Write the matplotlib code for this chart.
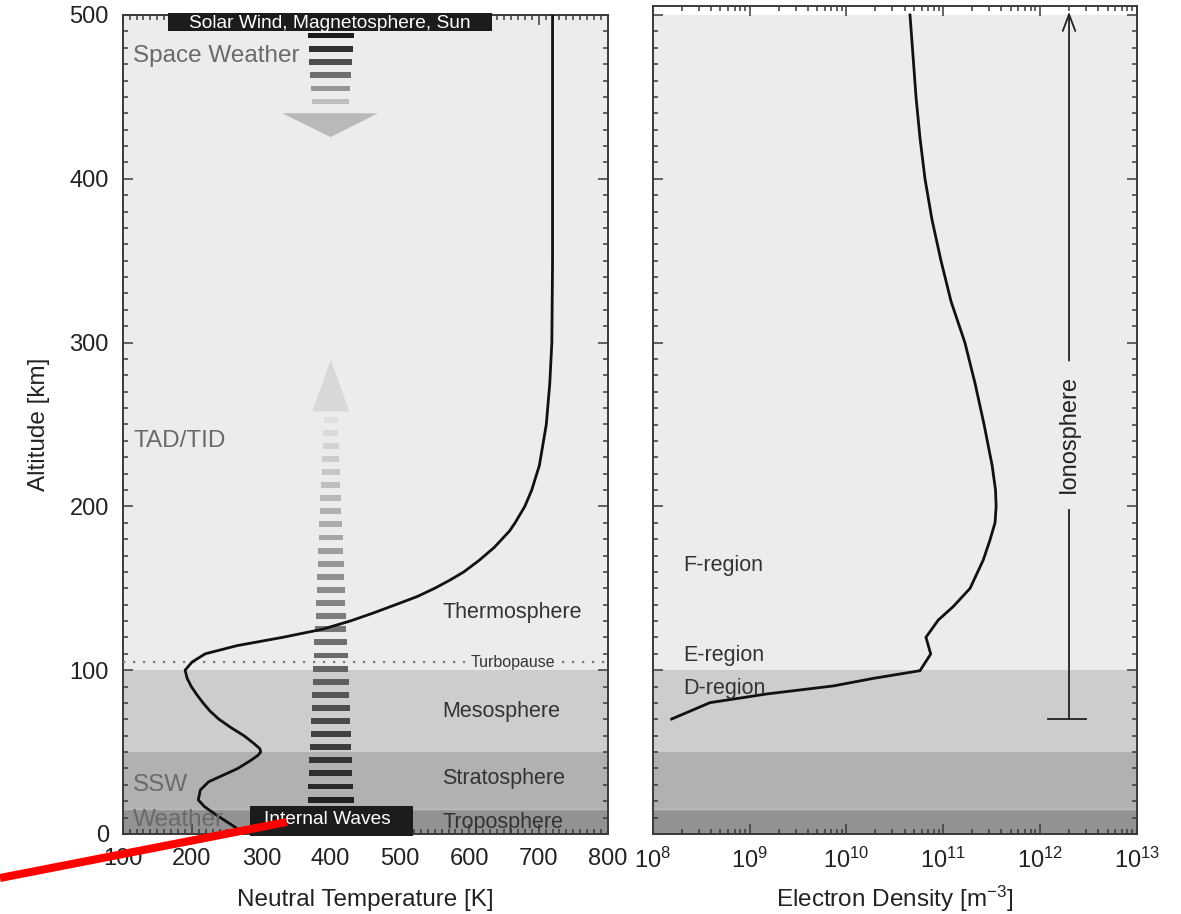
import numpy as np
import matplotlib
matplotlib.use("Agg")
import matplotlib.pyplot as plt
from matplotlib.patches import Rectangle, Polygon
from matplotlib.lines import Line2D
from matplotlib.ticker import MultipleLocator, LogLocator, NullFormatter

plt.rcParams['font.family'] = ['Liberation Sans', 'DejaVu Sans']
plt.rcParams['mathtext.fontset'] = 'custom'
plt.rcParams['mathtext.rm'] = 'Liberation Sans'
plt.rcParams['mathtext.it'] = 'Liberation Sans:italic'
plt.rcParams['mathtext.bf'] = 'Liberation Sans:bold'

# ---- neutral temperature profile ----
temp_alt_km = [0, 4.5, 11.6, 16.7, 20.8, 26.9, 31.9, 40, 45, 48, 50, 52, 55,
               60, 65, 70, 75, 80, 85, 90, 95, 100, 105, 110, 115, 120, 125,
               130, 135, 141, 145, 150, 155, 160, 167, 175, 185, 190, 200, 210,
               225, 250, 275, 300, 350, 400, 450, 500]
temp_K = [275, 261, 235, 218, 209, 212, 224, 266, 285, 295, 299, 298, 290,
          275, 256, 239, 226, 216, 207, 199, 193, 190, 200, 219, 265, 330, 388,
          428, 462, 500, 525, 550, 572, 592, 614, 636, 658, 666, 680, 690,
          701, 711, 716, 719, 720, 720, 720, 720]

# ---- electron density profile ----
ne_alt_km = [70.2, 80.2, 85.5, 90.4, 95, 99.7, 109.9, 120.1, 130.6, 138.8,
             150, 167.3, 179.5, 190, 200, 210, 225, 250, 275, 300, 325, 350,
             375, 400, 425, 450, 475, 500]
ne_m3 = [1.57e8, 3.91e8, 1.51e9, 7.35e9, 1.90e10, 5.77e10, 7.45e10, 6.65e10,
         8.91e10, 1.27e11, 1.90e11, 2.60e11, 3.05e11, 3.44e11, 3.53e11,
         3.48e11, 3.21e11, 2.65e11, 2.14e11, 1.68e11, 1.21e11, 9.51e10,
         7.68e10, 6.50e10, 5.77e10, 5.25e10, 4.89e10, 4.55e10]

# ---- atmospheric layers ----
layer_edges_km = [0, 15, 50, 100, 500]
layer_colors = ['#929292', '#b1b1b1', '#cdcdcd', '#ececec']
layer_names = ['Troposphere', 'Stratosphere', 'Mesosphere', 'Thermosphere']
layer_label_alt = [7.3, 34, 74.5, 135]
turbopause_km = 105

temp_ticks = [100, 200, 300, 400, 500, 600, 700, 800]
alt_ticks = [0, 100, 200, 300, 400, 500]

ink = '#222222'
frame = '#3a3a3a'

fig = plt.figure(figsize=(11.81, 9.14), dpi=100)
W, H = 1181, 914
ax1 = fig.add_axes([122.7 / W, 1 - 834 / H, (608 - 122.7) / W, (834 - 15) / H])
ax2 = fig.add_axes([652.7 / W, 1 - 834 / H, (1136.7 - 652.7) / W, (834 - 6) / H])

for ax in (ax1, ax2):
    for lo, hi, c in zip(layer_edges_km[:-1], layer_edges_km[1:], layer_colors):
        ax.axhspan(lo, hi, color=c, lw=0, zorder=0)
    ax.axhline(15, color='#bdbdbd', lw=1.0, zorder=0.2)
    for s in ax.spines.values():
        s.set_color(frame)
        s.set_linewidth(1.4)
    ax.tick_params(which='both', direction='in', top=True, right=True,
                   color=frame, labelcolor=ink, labelsize=17, width=1.1)
    ax.tick_params(which='major', length=7, pad=10)
    ax.tick_params(which='minor', length=3.5)
    ax.yaxis.set_major_locator(MultipleLocator(100))
    ax.yaxis.set_minor_locator(MultipleLocator(10))

# ---------------- left panel: neutral temperature ----------------
ax1.set_xlim(100, 800)
ax1.set_ylim(0, 500)
ax1.set_xticks(temp_ticks)
ax1.xaxis.set_minor_locator(MultipleLocator(10))
ax1.set_yticks(alt_ticks)
ax1.set_xlabel('Neutral Temperature [K]', fontsize=17.5, color=ink, labelpad=14)
ax1.set_ylabel('Altitude [km]', fontsize=17.5, color=ink, labelpad=14)

ax1.plot(temp_K, temp_alt_km, color='#111111', lw=2.0, zorder=5)

for name, z in zip(layer_names, layer_label_alt):
    ax1.text(561, z, name, fontsize=15.5, color='#333333', va='center', ha='left', zorder=6)

# turbopause dotted line, broken around its label
dot_style = dict(color='#7a7a7a', lw=1.6, ls=(0, (1, 3.5)), zorder=3)
ax1.plot([100, 594], [turbopause_km, turbopause_km], **dot_style)
ax1.plot([734, 800], [turbopause_km, turbopause_km], **dot_style)
ax1.text(663, turbopause_km, 'Turbopause', fontsize=11.5, color='#333333',
         ha='center', va='center', zorder=4)

# gray driver labels
gray = '#6a6a6a'
ax1.text(115, 475, 'Space Weather', fontsize=17.5, color=gray, va='center', zorder=6)
ax1.text(115, 240, 'TAD/TID', fontsize=17.5, color=gray, va='center', zorder=6)
ax1.text(115, 30, 'SSW', fontsize=17.5, color=gray, va='center', zorder=6)
ax1.text(115, 8.5, 'Weather', fontsize=17.5, color=gray, va='center', zorder=6)

# black source boxes
ax1.add_patch(Rectangle((165, 490), 633 - 165, 11, fc='#1c1c1c', ec='none',
                        zorder=7, clip_on=False))
ax1.text(399, 495, 'Solar Wind, Magnetosphere, Sun', fontsize=13.8, color='white',
         ha='center', va='center', zorder=8)
ax1.add_patch(Rectangle((284, -1), 519 - 284, 18, fc='#1c1c1c', ec='none',
                        zorder=7, clip_on=False))
ax1.text(395, 9, 'Internal Waves', fontsize=13.8, color='white',
         ha='center', va='center', zorder=8)

# downward dashed arrow from the top
n_down = 6
for i in range(n_down):
    f = i / (n_down - 1)
    z = 487.3 - 8 * i
    w = 66 - 12 * f
    g = 0.11 + 0.64 * f ** 1.3
    ax1.add_patch(Rectangle((400 - w / 2, z - 1.6), w, 3.2, fc=(g, g, g),
                            ec='none', zorder=4))
ax1.add_patch(Polygon([[330, 440], [468, 440], [400, 425.5]], closed=True,
                      fc='#b9b9b9', ec='none', zorder=4))

# upward dashed arrow from the bottom
n_up = 30
for i in range(n_up):
    f = i / (n_up - 1)
    z = 21 + 8 * i
    w = 66 - 46 * f
    g = 0.13 + 0.75 * f
    ax1.add_patch(Rectangle((400 - w / 2, z - 1.8), w, 3.6, fc=(g, g, g),
                            ec='none', zorder=4))
ax1.add_patch(Polygon([[373.5, 258], [427, 258], [400, 289.4]], closed=True,
                      fc='#d8d8d8', ec='none', zorder=4))

# ---------------- right panel: electron density ----------------
ax2.set_xscale('log')
ax2.set_xlim(1e8, 1e13)
ax2.set_ylim(0, 505.5)
ax2.xaxis.set_major_locator(LogLocator(base=10, numticks=10))
ax2.xaxis.set_minor_locator(LogLocator(base=10, subs=np.arange(2, 10), numticks=20))
ax2.xaxis.set_minor_formatter(NullFormatter())
ax2.set_yticklabels([])
ax2.axhspan(500, 505.5, color='white', lw=0, zorder=0.1)
ax2.set_xlabel('Electron Density [m$^{-3}$]', fontsize=17.5, color=ink, labelpad=8)

ax2.plot(ne_m3, ne_alt_km, color='#111111', lw=2.0, zorder=5)

ax2.text(2.05e8, 164, 'F-region', fontsize=15.5, color='#333333', va='center', zorder=6)
ax2.text(2.05e8, 109, 'E-region', fontsize=15.5, color='#333333', va='center', zorder=6)
ax2.text(2.05e8, 89, 'D-region', fontsize=15.5, color='#333333', va='center', zorder=6)

# ionosphere extent marker
iono_x = 2.0e12
ax2.plot([1.21e12, 3.0e12], [70, 70], color='#222222', lw=1.3, zorder=5)
ax2.plot([iono_x, iono_x], [70, 198], color='#222222', lw=1.3, zorder=5)
ax2.annotate('', xy=(iono_x, 502), xytext=(iono_x, 289),
             arrowprops=dict(arrowstyle='->,head_length=1.2,head_width=0.45',
                             color='#222222', lw=1.3, shrinkA=0, shrinkB=0),
             zorder=5)
ax2.text(iono_x, 244, 'Ionosphere', fontsize=17, color=ink, rotation=90,
         ha='center', va='center', zorder=6)

# red pointer stroke toward the Internal Waves box
fig.add_artist(Line2D([0, 287 / W], [1 - 878 / H, 1 - 822 / H], color='#ff0000',
                      lw=5.8, solid_capstyle='butt', transform=fig.transFigure,
                      zorder=20))

fig.savefig('out.png', dpi=100)
